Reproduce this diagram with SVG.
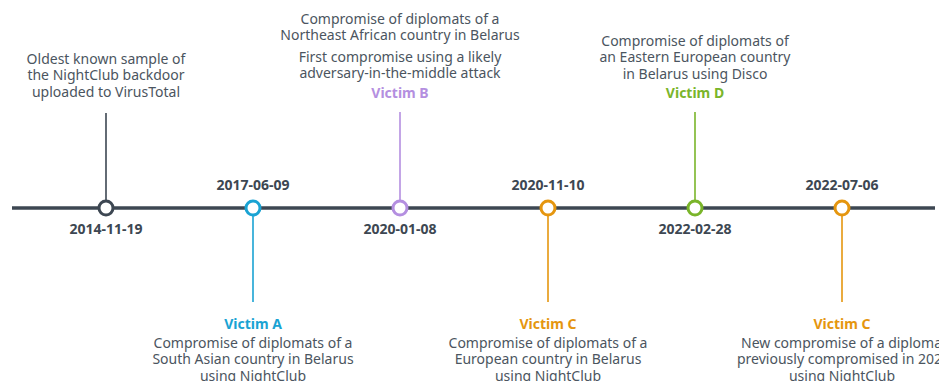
<svg xmlns="http://www.w3.org/2000/svg" width="939" height="381" viewBox="0 0 939 381">
<style>
text{font-family:"Noto Sans","Open Sans",sans-serif;font-size:14px;fill:#4b5560;text-anchor:middle}
.d{font-weight:bold;fill:#3d4752}
.v{font-weight:bold}
.node{fill:#fff;stroke-width:3}
.stem{stroke-width:1.6}
</style>
<rect width="939" height="381" fill="#fff"/>
<g id="connectors">
<line x1="12" y1="208" x2="935" y2="208" stroke="#3d4752" stroke-width="3.5"/>
<line class="stem" x1="106" y1="113" x2="106" y2="201" stroke="#3d4752"/>
<line class="stem" x1="253" y1="215" x2="253" y2="302" stroke="#1aa3d3"/>
<line class="stem" x1="400" y1="112" x2="400" y2="201" stroke="#b48fe0"/>
<line class="stem" x1="548" y1="215" x2="548" y2="302" stroke="#e5960f"/>
<line class="stem" x1="695" y1="112" x2="695" y2="201" stroke="#7ab52a"/>
<line class="stem" x1="842" y1="215" x2="842" y2="302" stroke="#e5960f"/>
</g>
<g id="n1">
<circle class="node" cx="106" cy="208" r="7" stroke="#3d4752"/>
<text class="d" x="106" y="234">2014-11-19</text>
<text x="106" y="64">Oldest known sample of</text>
<text x="106" y="80">the NightClub backdoor</text>
<text x="106" y="97">uploaded to VirusTotal</text>
</g>
<g id="n2">
<circle class="node" cx="253" cy="208" r="7" stroke="#1aa3d3"/>
<text class="d" x="253" y="190">2017-06-09</text>
<text class="v" x="253" y="329" fill="#1aa3d3" style="fill:#1aa3d3">Victim A</text>
<text x="253" y="348">Compromise of diplomats of a</text>
<text x="253" y="364">South Asian country in Belarus</text>
<text x="253" y="381">using NightClub</text>
</g>
<g id="n3">
<circle class="node" cx="400" cy="208" r="7" stroke="#b48fe0"/>
<text class="d" x="400" y="234">2020-01-08</text>
<text x="400" y="24">Compromise of diplomats of a</text>
<text x="400" y="40">Northeast African country in Belarus</text>
<text x="400" y="62">First compromise using a likely</text>
<text x="400" y="78">adversary-in-the-middle attack</text>
<text class="v" x="400" y="98" style="fill:#b48fe0">Victim B</text>
</g>
<g id="n4">
<circle class="node" cx="548" cy="208" r="7" stroke="#e5960f"/>
<text class="d" x="548" y="190">2020-11-10</text>
<text class="v" x="548" y="329" style="fill:#e5960f">Victim C</text>
<text x="548" y="348">Compromise of diplomats of a</text>
<text x="548" y="364">European country in Belarus</text>
<text x="548" y="381">using NightClub</text>
</g>
<g id="n5">
<circle class="node" cx="695" cy="208" r="7" stroke="#7ab52a"/>
<text class="d" x="695" y="234">2022-02-28</text>
<text x="695" y="46">Compromise of diplomats of</text>
<text x="695" y="62">an Eastern European country</text>
<text x="695" y="79">in Belarus using Disco</text>
<text class="v" x="695" y="98" style="fill:#7ab52a">Victim D</text>
</g>
<g id="n6">
<circle class="node" cx="842" cy="208" r="7" stroke="#e5960f"/>
<text class="d" x="842" y="190">2022-07-06</text>
<text class="v" x="842" y="329" style="fill:#e5960f">Victim C</text>
<text x="741" y="348" style="text-anchor:start">New compromise of a diploma</text>
<text x="737" y="364" style="text-anchor:start">previously compromised in 202</text>
<text x="842" y="381">using NightClub</text>
</g>
</svg>
